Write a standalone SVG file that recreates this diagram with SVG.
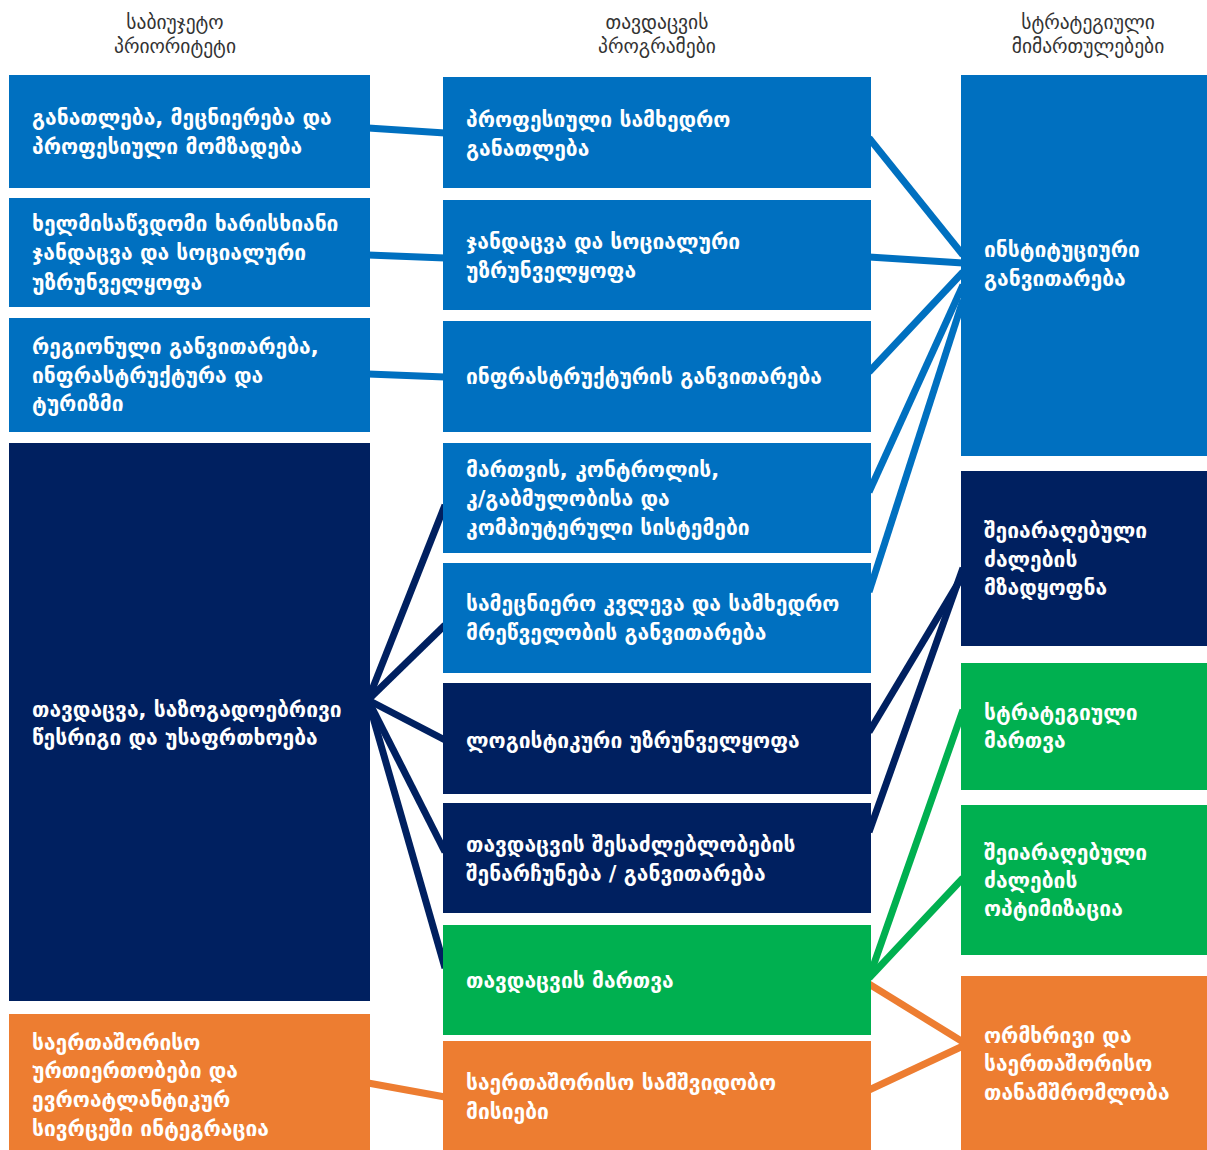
<svg xmlns="http://www.w3.org/2000/svg" width="1207" height="1150" viewBox="0 0 1207 1150">
<style>
.blue{fill:#0070C0}.navy{fill:#002060}.green{fill:#00B050}.orange{fill:#ED7D31}
.t{font-family:"DejaVu Sans","Noto Sans",sans-serif;font-size:21px;font-weight:bold;fill:#fff}
.h{font-family:"DejaVu Sans","Noto Sans",sans-serif;font-size:19.5px;fill:#333;text-anchor:middle}
.c{fill:none;stroke-width:7}
.cb{stroke:#0070C0}.cn{stroke:#002060}.cg{stroke:#00B050}.co{stroke:#ED7D31}
</style>
<rect width="1207" height="1150" fill="#fff"/>
<g id="headers">
<text class="h" x="175" y="29">საბიუჯეტო</text><text class="h" x="175" y="53">პრიორიტეტი</text>
<text class="h" x="657" y="29">თავდაცვის</text><text class="h" x="657" y="53">პროგრამები</text>
<text class="h" x="1088" y="29">სტრატეგიული</text><text class="h" x="1088" y="53">მიმართულებები</text>
</g>
<g id="connectors">
<line class="c cb" x1="368" y1="128" x2="445" y2="133"/>
<line class="c cb" x1="368" y1="255" x2="445" y2="258"/>
<line class="c cb" x1="368" y1="374" x2="445" y2="377"/>
<line class="c cn" x1="368" y1="700" x2="445" y2="505"/>
<line class="c cn" x1="368" y1="700" x2="445" y2="625"/>
<line class="c cn" x1="368" y1="700" x2="445" y2="740"/>
<line class="c cn" x1="368" y1="700" x2="445" y2="852"/>
<line class="c cn" x1="368" y1="700" x2="445" y2="968"/>
<line class="c co" x1="368" y1="1083" x2="445" y2="1097"/>
<line class="c cb" x1="869" y1="138" x2="963" y2="255"/>
<line class="c cb" x1="869" y1="257" x2="963" y2="263"/>
<line class="c cb" x1="869" y1="372" x2="963" y2="272"/>
<line class="c cb" x1="869" y1="492" x2="963" y2="285"/>
<line class="c cb" x1="869" y1="592" x2="963" y2="300"/>
<line class="c cn" x1="869" y1="732" x2="963" y2="575"/>
<line class="c cn" x1="869" y1="832" x2="963" y2="568"/>
<line class="c cg" x1="869" y1="978" x2="963" y2="710"/>
<line class="c cg" x1="869" y1="978" x2="963" y2="878"/>
<line class="c co" x1="869" y1="984" x2="963" y2="1042"/>
<line class="c co" x1="869" y1="1090" x2="963" y2="1046"/>
</g>
<g id="L1"><rect class="blue" x="9" y="75" width="361" height="113"/><text class="t" x="32" y="125">განათლება, მეცნიერება და</text><text class="t" x="32" y="154">პროფესიული მომზადება</text></g>
<g id="L2"><rect class="blue" x="9" y="198" width="361" height="109"/><text class="t" x="32" y="231">ხელმისაწვდომი ხარისხიანი</text><text class="t" x="32" y="260">ჯანდაცვა და სოციალური</text><text class="t" x="32" y="290">უზრუნველყოფა</text></g>
<g id="L3"><rect class="blue" x="9" y="318" width="361" height="114"/><text class="t" x="32" y="354">რეგიონული განვითარება,</text><text class="t" x="32" y="383">ინფრასტრუქტურა და</text><text class="t" x="32" y="411">ტურიზმი</text></g>
<g id="L4"><rect class="navy" x="9" y="443" width="361" height="558"/><text class="t" x="32" y="717">თავდაცვა, საზოგადოებრივი</text><text class="t" x="32" y="745">წესრიგი და უსაფრთხოება</text></g>
<g id="L5"><rect class="orange" x="9" y="1014" width="361" height="136"/><text class="t" x="32" y="1050">საერთაშორისო</text><text class="t" x="32" y="1078">ურთიერთობები და</text><text class="t" x="32" y="1107">ევროატლანტიკურ</text><text class="t" x="32" y="1136">სივრცეში ინტეგრაცია</text></g>
<g id="M1"><rect class="blue" x="443" y="77" width="428" height="111"/><text class="t" x="466" y="127">პროფესიული სამხედრო</text><text class="t" x="466" y="156">განათლება</text></g>
<g id="M2"><rect class="blue" x="443" y="200" width="428" height="110"/><text class="t" x="466" y="249">ჯანდაცვა და სოციალური</text><text class="t" x="466" y="278">უზრუნველყოფა</text></g>
<g id="M3"><rect class="blue" x="443" y="321" width="428" height="111"/><text class="t" x="466" y="384">ინფრასტრუქტურის განვითარება</text></g>
<g id="M4"><rect class="blue" x="443" y="443" width="428" height="110"/><text class="t" x="466" y="477">მართვის, კონტროლის,</text><text class="t" x="466" y="506">კ/გაბმულობისა და</text><text class="t" x="466" y="535">კომპიუტერული სისტემები</text></g>
<g id="M5"><rect class="blue" x="443" y="563" width="428" height="110"/><text class="t" x="466" y="611">სამეცნიერო კვლევა და სამხედრო</text><text class="t" x="466" y="640">მრეწველობის განვითარება</text></g>
<g id="M6"><rect class="navy" x="443" y="683" width="428" height="111"/><text class="t" x="466" y="748">ლოგისტიკური უზრუნველყოფა</text></g>
<g id="M7"><rect class="navy" x="443" y="803" width="428" height="110"/><text class="t" x="466" y="852">თავდაცვის შესაძლებლობების</text><text class="t" x="466" y="881">შენარჩუნება / განვითარება</text></g>
<g id="M8"><rect class="green" x="443" y="925" width="428" height="110"/><text class="t" x="466" y="988">თავდაცვის მართვა</text></g>
<g id="M9"><rect class="orange" x="443" y="1041" width="428" height="109"/><text class="t" x="466" y="1090">საერთაშორისო სამშვიდობო</text><text class="t" x="466" y="1119">მისიები</text></g>
<g id="R1"><rect class="blue" x="961" y="75" width="246" height="381"/><text class="t" x="984" y="257">ინსტიტუციური</text><text class="t" x="984" y="286">განვითარება</text></g>
<g id="R2"><rect class="navy" x="961" y="471" width="246" height="175"/><text class="t" x="984" y="538">შეიარაღებული</text><text class="t" x="984" y="567">ძალების</text><text class="t" x="984" y="595">მზადყოფნა</text></g>
<g id="R3"><rect class="green" x="961" y="663" width="246" height="127"/><text class="t" x="984" y="720">სტრატეგიული</text><text class="t" x="984" y="748">მართვა</text></g>
<g id="R4"><rect class="green" x="961" y="805" width="246" height="150"/><text class="t" x="984" y="860">შეიარაღებული</text><text class="t" x="984" y="888">ძალების</text><text class="t" x="984" y="916">ოპტიმიზაცია</text></g>
<g id="R5"><rect class="orange" x="961" y="976" width="246" height="174"/><text class="t" x="984" y="1043">ორმხრივი და</text><text class="t" x="984" y="1071">საერთაშორისო</text><text class="t" x="984" y="1100">თანამშრომლობა</text></g>
</svg>
